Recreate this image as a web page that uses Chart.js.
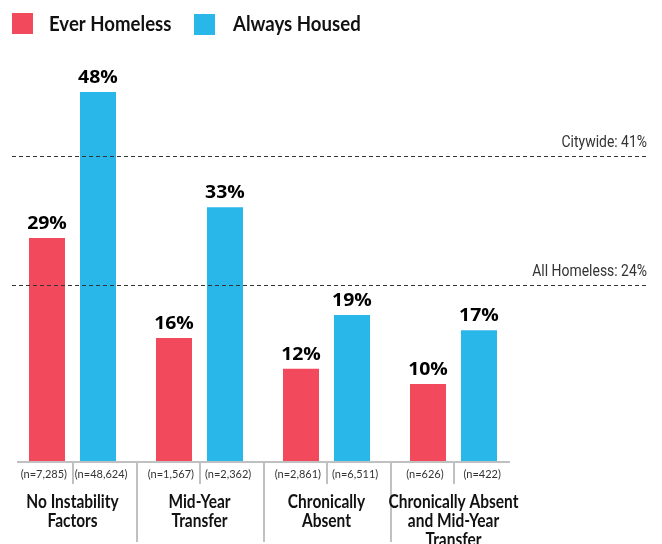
<!DOCTYPE html>
<html lang="en">
<head>
    <meta charset="UTF-8">
    <title>Ever Homeless vs Always Housed</title>
    <script src="https://cdn.jsdelivr.net/npm/chart.js"></script>
    <style>
        body, html {
            margin: 0;
            padding: 0;
            width: 662px;
            height: 544px;
            overflow: hidden;
            background: #fff;
        }
        canvas {
            display: block;
        }
    </style>
</head>
<body>
    <canvas id="homelessChart" width="662" height="544"></canvas>

    <script>
        const categories = [
            ['No Instability', 'Factors'],
            ['Mid-Year', 'Transfer'],
            ['Chronically', 'Absent'],
            ['Chronically Absent', 'and Mid-Year', 'Transfer']
        ];
        const everHomeless = [29, 16, 12, 10];
        const alwaysHoused = [48, 33, 19, 17];
        const everHomelessN = ['(n=7,285)', '(n=1,567)', '(n=2,861)', '(n=626)'];
        const alwaysHousedN = ['(n=48,624)', '(n=2,362)', '(n=6,511)', '(n=422)'];
        const refLabels = ['Citywide: 41%', 'All Homeless: 24%'];
        const refValues = [39.7, 22.9];

        const RED = '#f24a5c';
        const BLUE = '#29b6e9';

        // draw text squeezed or stretched horizontally
        function scaledText(ctx, text, x, y, sx) {
            ctx.save();
            ctx.translate(x, y);
            ctx.scale(sx, 1);
            ctx.fillText(text, 0, 0);
            ctx.restore();
        }

        const extras = {
            id: 'extras',
            afterDraw(chart) {
                const ctx = chart.ctx;
                const x = chart.scales.x;
                const y = chart.scales.y;
                const base = y.getPixelForValue(0);
                const step = x.getPixelForValue(1) - x.getPixelForValue(0);

                ctx.save();

                // legend
                ctx.textBaseline = 'alphabetic';
                ctx.font = 'bold 20px Lato';
                ctx.fillStyle = RED;
                ctx.fillRect(12, 13, 21, 21);
                ctx.fillStyle = BLUE;
                ctx.fillRect(194, 14, 21, 21);
                ctx.fillStyle = '#111';
                ctx.textAlign = 'left';
                scaledText(ctx, 'Ever Homeless', 49, 31, 0.93);
                scaledText(ctx, 'Always Housed', 233, 31, 0.93);

                // reference lines
                ctx.strokeStyle = '#333';
                ctx.lineWidth = 1;
                ctx.setLineDash([4, 3]);
                refValues.forEach((v, i) => {
                    const py = Math.round(y.getPixelForValue(v)) + 0.5;
                    ctx.beginPath();
                    ctx.moveTo(12, py);
                    ctx.lineTo(648, py);
                    ctx.stroke();
                    ctx.font = '17px Roboto';
                    ctx.fillStyle = '#333';
                    ctx.textAlign = 'right';
                    scaledText(ctx, refLabels[i], 647, py - 10, 0.82);
                });
                ctx.setLineDash([]);

                // axis line and separators
                ctx.strokeStyle = '#c0c0c0';
                ctx.lineWidth = 2;
                ctx.beginPath();
                ctx.moveTo(17, base + 1);
                ctx.lineTo(510, base + 1);
                ctx.stroke();
                categories.forEach((c, i) => {
                    const cx = Math.round(x.getPixelForValue(i));
                    ctx.beginPath();
                    ctx.moveTo(cx, base + 1);
                    ctx.lineTo(cx, base + 23);
                    ctx.stroke();
                    if (i > 0) {
                        const sx = Math.round(cx - step / 2);
                        ctx.beginPath();
                        ctx.moveTo(sx, base + 1);
                        ctx.lineTo(sx, base + 81);
                        ctx.stroke();
                    }
                });

                // value labels and n labels
                const nLists = [everHomelessN, alwaysHousedN];
                chart.data.datasets.forEach((ds, di) => {
                    const meta = chart.getDatasetMeta(di);
                    meta.data.forEach((bar, i) => {
                        ctx.font = 'bold 18px "Open Sans"';
                        ctx.fillStyle = '#000';
                        ctx.textAlign = 'center';
                        scaledText(ctx, ds.data[i] + '%', bar.x, bar.y - 9, 1.08);

                        const cx = x.getPixelForValue(i);
                        const half = di === 0 ? cx - step / 4 : cx + step / 4;
                        ctx.font = '11px Lato';
                        ctx.fillStyle = '#333';
                        ctx.fillText(nLists[di][i], (bar.x + half) / 2, base + 17);
                    });
                });

                // category labels
                ctx.font = 'bold 18px Lato';
                ctx.fillStyle = '#111';
                ctx.textAlign = 'center';
                categories.forEach((lines, i) => {
                    const cx = x.getPixelForValue(i);
                    lines.forEach((line, li) => {
                        scaledText(ctx, line, cx, base + 47 + li * 19, 0.86);
                    });
                });

                ctx.restore();
            }
        };

        const ctx = document.getElementById('homelessChart').getContext('2d');
        new Chart(ctx, {
            type: 'bar',
            data: {
                labels: categories,
                datasets: [{
                    label: 'Ever Homeless',
                    data: everHomeless,
                    backgroundColor: RED
                }, {
                    label: 'Always Housed',
                    data: alwaysHoused,
                    backgroundColor: BLUE
                }]
            },
            options: {
                responsive: false,
                animation: false,
                categoryPercentage: 0.803,
                barPercentage: 0.706,
                layout: {
                    padding: { left: 9, right: 145, top: 76.5, bottom: 83 }
                },
                scales: {
                    x: { display: false },
                    y: { display: false, min: 0, max: 50 }
                },
                plugins: {
                    legend: { display: false },
                    tooltip: { enabled: false }
                }
            },
            plugins: [extras]
        });
    </script>
</body>
</html>
